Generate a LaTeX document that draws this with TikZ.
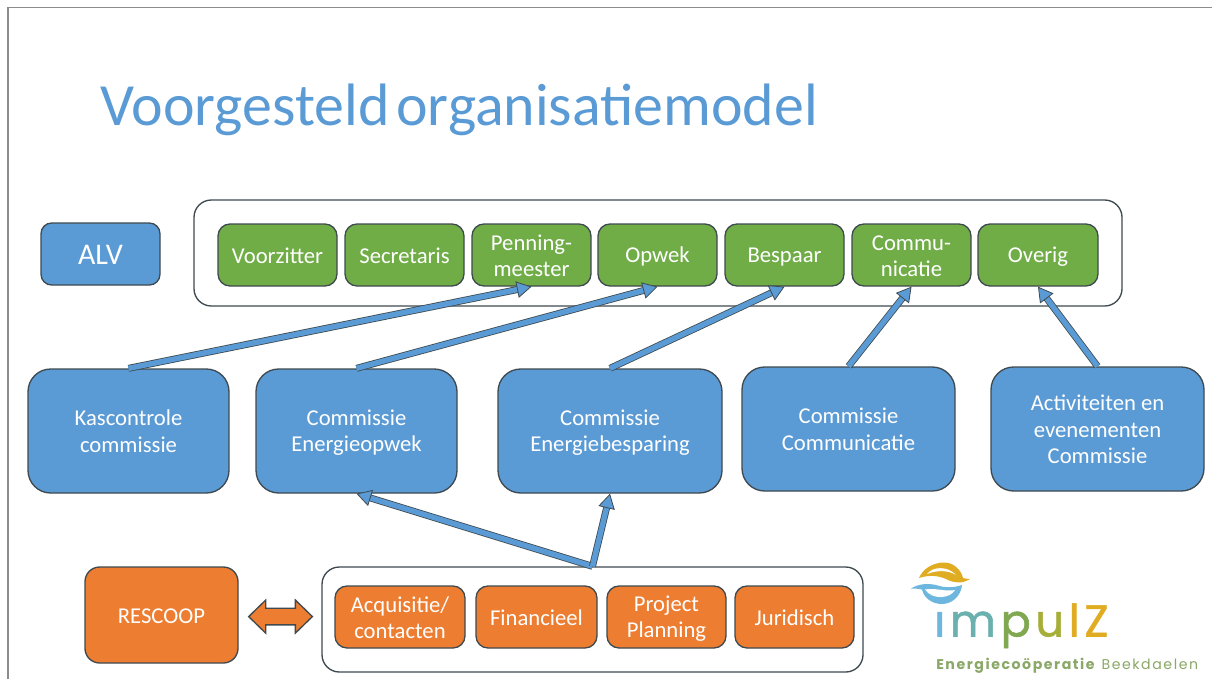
\documentclass[tikz,border=0pt]{standalone}
\usepackage{fontspec}
\setmainfont{Carlito}
\newfontfamily\logofont[FakeBold=1.2]{Poppins}
\newfontfamily\logosub[LetterSpace=11]{Poppins}
\usetikzlibrary{arrows.meta,calc}
\definecolor{ablue}{HTML}{5B9BD5}
\definecolor{agreen}{HTML}{70AD47}
\definecolor{aorange}{HTML}{ED7D31}
\definecolor{edge}{HTML}{3F4A50}
\definecolor{frameg}{HTML}{8C8C8C}
\definecolor{lgold}{HTML}{E0AC22}
\definecolor{lsky}{HTML}{6DB7DF}
\definecolor{lteal}{HTML}{69B0AE}
\definecolor{lgreen}{HTML}{7FA850}
\definecolor{lolive}{HTML}{A6AE38}
\definecolor{lsub}{HTML}{8AA867}
\tikzset{
  x=0.75pt,y=-0.75pt,
  basebox/.style={draw=edge,line width=1pt,align=center,inner sep=0pt,text=white},
  greenbox/.style={basebox,fill=agreen,rounded corners=9pt,font=\fontsize{17}{19.5}\selectfont},
  orangebox/.style={basebox,fill=aorange,rounded corners=9pt,font=\fontsize{17}{19.5}\selectfont},
  bigblue/.style={basebox,fill=ablue,rounded corners=17pt,font=\fontsize{17}{20}\selectfont},
  alvbox/.style={basebox,fill=ablue,rounded corners=8pt,font=\fontsize{22.5}{26}\selectfont},
  resbox/.style={basebox,fill=aorange,rounded corners=11pt,font=\fontsize{17}{20}\selectfont},
  groupbox/.style={draw=edge,line width=1pt,fill=white,rounded corners=13pt,inner sep=0pt},
  flow/.style={double=ablue,double distance=4pt,draw=edge,line width=0.6pt,line cap=butt,
    -{Triangle[length=11pt,width=12.5pt,fill=ablue,color=edge,line width=0.6pt]}},
  twoway/.style={fill=aorange,draw=edge,line width=1pt,line join=miter},
}
\newcommand{\myst}{\vrule height 0.83em depth 0.12em width 0pt}
\newcommand{\mybox}[7][]{%
  \pgfmathsetmacro{\bxc}{(#4+#6)/2}%
  \pgfmathsetmacro{\byc}{(#5+#7)/2}%
  \pgfmathsetmacro{\bxw}{(#6-#4)*0.75}%
  \pgfmathsetmacro{\byh}{(#7-#5)*0.75}%
  \node[#2,minimum width=\bxw pt,minimum height=\byh pt] (#3) at (\bxc,\byc) {\myst #1\myst};%
}
\begin{document}
\begin{tikzpicture}
\useasboundingbox (0,0) rectangle (1212,679);
\fill[white] (0,0) rectangle (1212,679);
\draw[frameg,line width=0.8pt] (8,679) -- (8,7.5) -- (1212,7.5);

\node[anchor=base west,inner sep=0pt,text=ablue,font=\fontsize{44.9}{50}\selectfont] (title) at (100,125)
  {Voorgesteld\hspace{-5pt} organisatiemodel};

\mybox[ALV]{alvbox}{alv}{41}{223}{160}{285}
\mybox{groupbox}{top}{194}{200}{1122}{306}
\mybox[Voorzitter]{greenbox}{g1}{218}{224}{337}{286}
\mybox[Secretaris]{greenbox}{g2}{345}{224}{464}{286}
\mybox[Penning-\\meester]{greenbox}{g3}{472}{224}{591}{286}
\mybox[Opwek]{greenbox}{g4}{598}{224}{717}{286}
\mybox[Bespaar]{greenbox}{g5}{725}{224}{844}{286}
\mybox[Commu-\\nicatie]{greenbox}{g6}{852}{224}{971}{286}
\mybox[Overig]{greenbox}{g7}{978}{224}{1098}{286}

\mybox[Kascontrole\\commissie]{bigblue}{kas}{28}{369}{229}{493}
\mybox[Commissie\\Energieopwek]{bigblue}{opw}{256}{369}{457}{493}
\mybox[Commissie\\Energiebesparing]{bigblue}{bes}{498}{369}{722}{493}
\mybox[Commissie\\Communicatie]{bigblue}{com}{742}{367}{955}{491}
\mybox[Activiteiten en\\evenementen\\Commissie]{bigblue}{act}{991}{367}{1204}{491}

\mybox[RESCOOP]{resbox}{res}{85}{567}{238}{663}
\mybox{groupbox}{bot}{322}{567}{863}{672}
\mybox[Acquisitie/\\contacten]{orangebox}{o1}{335}{586}{465}{648}
\mybox[Financieel]{orangebox}{o2}{476}{586}{597}{648}
\mybox[Project\\Planning]{orangebox}{o3}{607}{586}{726}{648}
\mybox[Juridisch]{orangebox}{o4}{735}{586}{854}{648}

\draw[flow] (kas.north) -- (g3.south);
\draw[flow] (opw.north) -- (g4.south);
\draw[flow] (bes.north) -- (g5.south);
\draw[flow] (com.north) -- (g6.south);
\draw[flow] (act.north) -- (g7.south);
\draw[flow] (bot.north) -- (opw.south);
\draw[flow] (bot.north) -- (bes.south);

% two-way arrow between RESCOOP and the group
\coordinate (dl) at ([xshift=7.5pt,yshift=-1.2pt]res.east);
\coordinate (dr) at ([xshift=-6.7pt,yshift=2.2pt]bot.west);
\draw[twoway] (dl) -- ++(17,-16.5) -- ++(0,8.2) -- ($(dr)+(-17,-8.3)$) -- ++(0,-8.2) -- (dr)
  -- ++(-17,16.5) -- ++(0,-8.2) -- ($(dl)+(17,8.3)$) -- ++(0,8.2) -- cycle;

% logo
\fill[lgold] (919,578) .. controls (923,568) and (934,562.5) .. (944,562.5)
  .. controls (954,562.5) and (961,570) .. (963,578) .. controls (965,578.5) and (968,579) .. (970,579)
  .. controls (962,584) and (954,583) .. (947,579.5) .. controls (938,575) and (928,575) .. (919,578) -- cycle;
\fill[white] (927,574) .. controls (933,566) and (948,566) .. (956,575) .. controls (948,570) and (937,570) .. (927,574) -- cycle;
\fill[lsky] (911,588.5) .. controls (918,584) and (927,583) .. (936,585)
  .. controls (945,588) and (953,588) .. (962,585) .. controls (961,596) and (952,604) .. (942,604)
  .. controls (932,604) and (924,598) .. (922,589.5) .. controls (918,588.5) and (914,588.5) .. (911,588.5) -- cycle;
\fill[white] (925,589.5) .. controls (935,587.5) and (946,592) .. (955,590) .. controls (950,599) and (932,600) .. (925,589.5) -- cycle;
\node[anchor=base west,inner sep=0pt,font=\logofont\fontsize{33.5}{36}\selectfont] (lgname) at (934,636.5)
  {\textcolor{lsky}{\i}\hspace{3.5pt}\textcolor{lteal}{m}\hspace{3.5pt}\textcolor{lgreen}{p}\hspace{3.5pt}\textcolor{lolive}{u}\hspace{3.5pt}\textcolor{lgold}{l}\hspace{3.5pt}\textcolor{lgold}{Z}};
\node[anchor=base west,inner sep=0pt,text=lsub,font=\logosub\fontsize{10.6}{12}\selectfont] (lgsub) at (936,669)
  {\textbf{Energiecoöperatie} Beekdaelen};
\end{tikzpicture}
\end{document}
